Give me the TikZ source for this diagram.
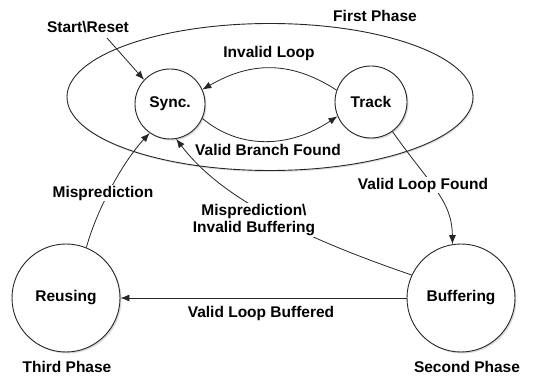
\documentclass[tikz,border=0pt]{standalone}
\usepackage{fontspec}
\setmainfont{Liberation Sans}
\usetikzlibrary{shapes.geometric,arrows.meta,shadows}
\begin{document}
\begin{tikzpicture}[x=1pt,y=-1pt,
  every node/.style={font=\fontsize{15.5}{17}\selectfont\bfseries},
  state/.style={circle,draw=black!85,line width=0.9pt,fill=white,inner sep=0pt,
    drop shadow={shadow xshift=1.5pt,shadow yshift=-1.5pt,opacity=0.3}},
  lbl/.style={fill=white,inner sep=1pt,align=center},
  conn/.style={draw=black!85,line width=0.8pt,-{Latex[length=9pt,width=7pt]}}]
\useasboundingbox (0,0) rectangle (544,379);
\node[ellipse,draw=black!85,line width=0.9pt,minimum width=406pt,minimum height=147pt,
  drop shadow={shadow xshift=1pt,shadow yshift=-1.5pt,opacity=0.25},fill=white] (ph1) at (270,97) {};
\node[state,minimum size=70pt] (sync) at (170,104) {Sync.};
\node[state,minimum size=72pt] (track) at (371,102) {Track};
\node[state,minimum size=108pt] (reuse) at (66,298) {Reusing};
\node[state,minimum size=108pt] (buffer) at (461,298) {Buffering};

\node (fp) at (375,16) {First Phase};
\node (tp) at (67,367) {Third Phase};
\node (sp) at (467,367) {Second Phase};
\node (startlbl) at (88,27) {Start\textbackslash Reset};
\coordinate (st) at (107,38);

% connectors
\draw[conn] (st) -- (sync.137);
\draw[conn] (track.161) .. controls (290,60) and (250,62) .. (sync.24);
\draw[conn] (sync.-24) .. controls (240,150) and (290,148) .. (track.203);
\draw[conn] (track.-54) .. controls (430,185) and (452,200) .. (buffer.99);
\draw[conn] (reuse.68) .. controls (95,215) and (120,165) .. (sync.235);
\draw[conn] (buffer.155) .. controls (280,230) and (215,190) .. (sync.-80);
\draw[conn] (buffer.west) -- (reuse.east);

% labels
\node[lbl] (il) at (269,53) {Invalid Loop};
\node[lbl] (vbf) at (268,150) {Valid Branch Found};
\node[lbl] (vlf) at (423,185) {Valid Loop Found};
\node[lbl] (mp) at (103,193) {Misprediction};
\node[lbl] (mib) at (254,220) {Misprediction\textbackslash\\Invalid Buffering};
\node[lbl] (vlb) at (261,313) {Valid Loop Buffered};
\end{tikzpicture}
\end{document}
